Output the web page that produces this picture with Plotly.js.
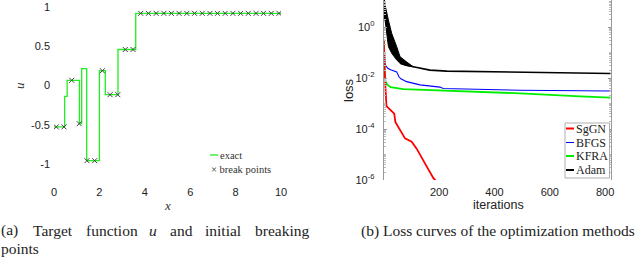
<!DOCTYPE html>
<html>
<head>
<meta charset="utf-8">
<script src="https://cdn.plot.ly/plotly-3.0.1.min.js"></script>
<style>html,body{margin:0;padding:0;background:#fff;}#chart{width:640px;height:257px;}</style>
</head>
<body>
<div id="chart"></div>
<script>
// ---------- (a) target function ----------
const uX = [0, 0.47, 0.58, 1.12, 1.22, 1.44, 2.0, 2.26, 2.82, 3.6, 10];
const uY = [-0.525, -0.136, 0.068, -0.484, 0.217, -0.955, 0.19, -0.115, 0.46, 0.92, 0.92];
const breakX = [0.1, 0.44, 0.78, 1.11, 1.45, 1.79, 2.13, 2.47, 2.81, 3.14, 3.48, 3.82, 4.16, 4.5, 4.84,
                5.17, 5.51, 5.85, 6.19, 6.53, 6.87, 7.2, 7.54, 7.88, 8.22, 8.56, 8.9, 9.23, 9.57, 9.91];
const breakY = [-0.525, -0.525, 0.068, -0.484, -0.955, -0.955, 0.19, -0.115, -0.115, 0.46, 0.46,
                0.92, 0.92, 0.92, 0.92, 0.92, 0.92, 0.92, 0.92, 0.92, 0.92, 0.92, 0.92, 0.92, 0.92,
                0.92, 0.92, 0.92, 0.92, 0.92];
const uTickVals = [-1, -0.5, 0, 0.5, 1];
const uTickText = ['-1', '-0.5', '0', '0.5', '1'];
const xTickVals = [0, 2, 4, 6, 8, 10];

// ---------- (b) loss curves ----------
const sggnIter = [0, 2, 5, 10, 25, 38, 42, 59, 77, 101, 119, 149, 179, 190];
const sggnLoss = [0.316, 0.025, 0.0079, 7.9e-4, 5.6e-4, 4.0e-4, 1.9e-4, 8.9e-5, 4.3e-5, 3.2e-5, 1.7e-5, 4.5e-6, 1.2e-6, 8.9e-7];
const bfgsIter = [0, 3, 6, 15, 25, 47, 55, 62, 83, 131, 203, 215, 312, 493, 820];
const bfgsLoss = [0.316, 0.063, 0.0316, 0.024, 0.0209, 0.0174, 0.0112, 0.0093, 0.0072, 0.0054, 0.0044, 0.0039, 0.0036, 0.0033, 0.0031];
const kfraIter = [0, 3, 5, 12, 25, 71, 252, 493, 710, 820];
const kfraLoss = [0.316, 0.02, 0.0083, 0.0056, 0.0044, 0.0037, 0.0032, 0.0025, 0.0019, 0.0017];
const adamIter = [59, 80, 107, 167, 228, 372, 600, 820];
const adamLoss = [0.038, 0.0316, 0.0275, 0.0204, 0.0186, 0.0174, 0.0162, 0.0151];
const adamBandIter = [0, 5, 17, 29, 47, 59, 80, 107];
const adamBandHigh = [20, 7.2, 1.86, 0.56, 0.17, 0.069, 0.045, 0.0275];
const adamBandLow = [2, 1.86, 0.17, 0.093, 0.051, 0.038, 0.0316, 0.0275];
const lossTickVals = [1, 0.01, 1e-4, 1e-6];
const lossTickText = ['10<sup>0</sup>', '10<sup>-2</sup>', '10<sup>-4</sup>', '10<sup>-6</sup>'];
const iterTickVals = [200, 400, 600, 800];
const methodNames = ['SgGN', 'BFGS', 'KFRA', 'Adam'];
const methodColors = ['#ff0000', '#0000ff', '#00ee00', '#000000'];

const W = 640, H = 257;
const px = x => x / W;
const py = y => 1 - y / H;

const bandX = adamBandIter.concat(adamBandIter.slice().reverse());
const bandY = adamBandHigh.concat(adamBandLow.slice().reverse());

const traces = [
  {x: uX, y: uY, mode: 'lines', line: {shape: 'hv', color: '#22ee22', width: 1.3}, xaxis: 'x', yaxis: 'y', hoverinfo: 'skip'},
  {x: breakX, y: breakY, mode: 'markers', marker: {symbol: 'x-thin-open', size: 5, color: '#444', line: {color: '#444', width: 1}}, xaxis: 'x', yaxis: 'y'},
  {x: bandX, y: bandY, mode: 'lines', fill: 'toself', fillcolor: '#000', line: {color: '#000', width: 1}, xaxis: 'x2', yaxis: 'y2'},
  {x: adamIter, y: adamLoss, mode: 'lines', line: {color: methodColors[3], width: 1.6}, xaxis: 'x2', yaxis: 'y2'},
  {x: bfgsIter, y: bfgsLoss, mode: 'lines', line: {color: methodColors[1], width: 1.1}, xaxis: 'x2', yaxis: 'y2'},
  {x: kfraIter, y: kfraLoss, mode: 'lines', line: {color: methodColors[2], width: 1.8}, xaxis: 'x2', yaxis: 'y2'},
  {x: sggnIter, y: sggnLoss, mode: 'lines', line: {color: methodColors[0], width: 1.8}, xaxis: 'x2', yaxis: 'y2'}
];

const tickFont = {family: 'Liberation Sans, Arial, sans-serif', size: 11, color: '#222'};
const serif = 'Liberation Serif, Times New Roman, serif';

const shapes = [
  {type: 'line', xref: 'paper', yref: 'paper', x0: px(210), x1: px(218), y0: py(155), y1: py(155), line: {color: '#22ee22', width: 1.3}},
  {type: 'rect', xref: 'paper', yref: 'paper', x0: px(565), x1: px(609.5), y0: py(123), y1: py(178), line: {color: '#999', width: 0.8}, fillcolor: '#fff'}
];
const legendYs = [128.5, 142.5, 156, 170];
const legendW = [2, 1, 2, 2];
const annotations = [
  {text: 'exact', x: px(218.5), y: py(155), xanchor: 'left', yanchor: 'middle', font: {family: serif, size: 10.5, color: '#333'}},
  {text: '× break points', x: px(210), y: py(169), xanchor: 'left', yanchor: 'middle', font: {family: serif, size: 10.5, color: '#333'}},
  {text: '<i>u</i>', x: px(20), y: py(86), textangle: -90, xanchor: 'center', yanchor: 'middle', font: {family: serif, size: 13, color: '#333'}},
  {text: '<i>x</i>', x: px(167), y: py(205), xanchor: 'center', yanchor: 'middle', font: {family: serif, size: 13, color: '#333'}},
  {text: 'loss', x: px(348), y: py(90), textangle: -90, xanchor: 'center', yanchor: 'middle', font: {family: 'Liberation Sans, Arial, sans-serif', size: 13, color: '#222'}},
  {text: 'iterations', x: px(498), y: py(205), xanchor: 'center', yanchor: 'middle', font: {family: 'Liberation Sans, Arial, sans-serif', size: 12.5, color: '#222'}},
  {text: '(b) Loss curves of the optimization methods', x: px(498), y: py(231), xanchor: 'center', yanchor: 'middle', font: {family: serif, size: 15.5, color: '#222'}},
  {text: 'points', x: px(0), y: py(248), xanchor: 'left', yanchor: 'middle', font: {family: serif, size: 15.5, color: '#222'}}
];
// caption (a) first line, justified word by word
const capWords = ['(a)', 'Target', 'function', '<i>u</i>', 'and', 'initial', 'breaking'];
const capPos = [0, 32, 85, 148, 169, 204, 310];
const capAnchor = ['left', 'left', 'left', 'left', 'left', 'left', 'right'];
capWords.forEach((w, i) => annotations.push({text: w, x: px(capPos[i]), y: py(230), xanchor: capAnchor[i], yanchor: 'middle', font: {family: serif, size: 15.5, color: '#222'}}));
methodNames.forEach((n, i) => {
  shapes.push({type: 'line', xref: 'paper', yref: 'paper', x0: px(566), x1: px(574), y0: py(legendYs[i]), y1: py(legendYs[i]), line: {color: methodColors[i], width: legendW[i]}});
  annotations.push({text: n, x: px(575), y: py(legendYs[i]), xanchor: 'left', yanchor: 'middle', font: {family: serif, size: 12, color: '#222'}});
});
annotations.forEach(a => { a.xref = 'paper'; a.yref = 'paper'; a.showarrow = false; a.borderpad = 0; });

const layout = {
  width: W, height: H,
  margin: {l: 0, r: 0, t: 0, b: 0, pad: 0},
  paper_bgcolor: '#fff', plot_bgcolor: 'rgba(0,0,0,0)',
  showlegend: false,
  xaxis: {domain: [px(54), px(281)], range: [0, 10], tickvals: xTickVals, showgrid: false, zeroline: false, showline: false, ticks: '', tickfont: tickFont, ticklabelstandoff: 8, anchor: 'y'},
  yaxis: {domain: [py(176), 1], range: [-1.15, 1.09], tickvals: uTickVals, ticktext: uTickText, showgrid: false, zeroline: false, showline: false, ticks: '', tickfont: tickFont, ticklabelstandoff: 3, anchor: 'x'},
  xaxis2: {domain: [px(383.7), px(610.7)], range: [0, 820], tickvals: iterTickVals, showgrid: false, zeroline: false, showline: false, ticks: '', tickfont: tickFont, ticklabelstandoff: 4, anchor: 'y2'},
  yaxis2: {domain: [py(180), 1], type: 'log', range: [-6, 1.06], tickvals: lossTickVals, ticktext: lossTickText, showgrid: false, zeroline: false,
           showline: true, linecolor: '#999', linewidth: 1, mirror: 'ticks', ticks: 'inside', ticklen: 3, tickcolor: '#999',
           minor: {ticks: 'inside', ticklen: 2, tickcolor: '#bbb', dtick: 'D1'}, tickfont: tickFont, ticklabelstandoff: 6, anchor: 'x2'},
  shapes: shapes,
  annotations: annotations
};

Plotly.newPlot('chart', traces, layout, {staticPlot: true, displayModeBar: false});
</script>
</body>
</html>
